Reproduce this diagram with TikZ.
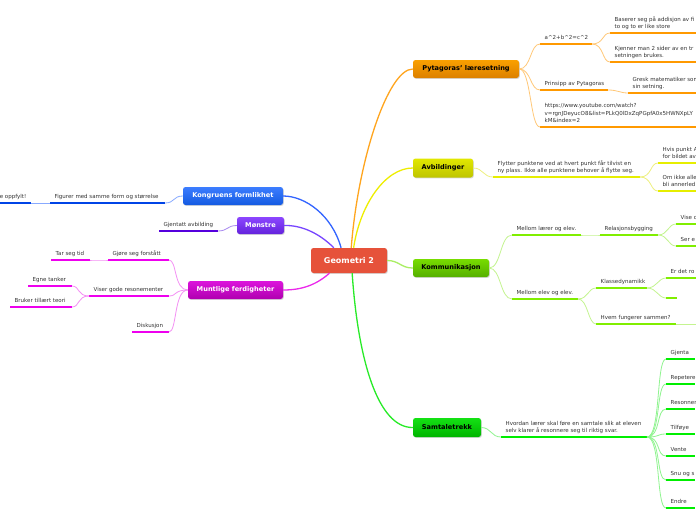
\documentclass[tikz,border=0pt]{standalone}
\usepackage{fontspec}
\setmainfont{DejaVu Sans}
\usetikzlibrary{shadows}
\newcommand\subfont{\fontsize{5.5}{7.6}\selectfont}
\newcommand\boxfont{\fontsize{6.6}{7.5}\selectfont\bfseries}
\newcommand\geofont{\fontsize{8}{9}\selectfont\bfseries}
\definecolor{txtgrey}{HTML}{333333}
\definecolor{ulo}{HTML}{FF9900}\definecolor{cono}{HTML}{FFC878}
\definecolor{uly}{HTML}{E6EE00}\definecolor{cony}{HTML}{EEF080}
\definecolor{ulk}{HTML}{80EE00}\definecolor{conk}{HTML}{C4F490}
\definecolor{uls}{HTML}{00EE00}\definecolor{cons}{HTML}{90F490}
\definecolor{ulb}{HTML}{0044E6}\definecolor{conb}{HTML}{88AAFF}
\definecolor{ulp}{HTML}{5500DD}\definecolor{conp}{HTML}{A888F0}
\definecolor{ulm}{HTML}{EE00EE}\definecolor{conm}{HTML}{F490F4}
\definecolor{geored}{HTML}{E6523A}
\definecolor{pytA}{HTML}{FAA000}\definecolor{pytB}{HTML}{DC8000}
\definecolor{avbA}{HTML}{E2E800}\definecolor{avbB}{HTML}{BEC400}
\definecolor{komA}{HTML}{78DC00}\definecolor{komB}{HTML}{55AF00}
\definecolor{samA}{HTML}{14E114}\definecolor{samB}{HTML}{00B400}
\definecolor{konA}{HTML}{3C7DFF}\definecolor{konB}{HTML}{145AE1}
\definecolor{monA}{HTML}{8C46FF}\definecolor{monB}{HTML}{6423DC}
\definecolor{munA}{HTML}{DC14DC}\definecolor{munB}{HTML}{AF00AF}
\definecolor{mainO}{HTML}{FFA51E}
\definecolor{mainY}{HTML}{EEEE00}
\definecolor{mainK}{HTML}{AAEE64}
\definecolor{mainS}{HTML}{28EB28}
\definecolor{mainB}{HTML}{3264FF}
\definecolor{mainP}{HTML}{7846FF}
\definecolor{mainM}{HTML}{EB28EB}
\tikzset{
  sub/.style={anchor=south west, inner xsep=4.5pt, inner ysep=2.4pt, text depth=1.5pt,
    align=left, font=\subfont, text=txtgrey},
  ul/.style={line width=2pt, draw=#1},
  con/.style={line width=0.8pt, draw=#1},
  main/.style={line width=1.3pt, draw=#1},
  topic/.style={rounded corners=2.5pt, font=\boxfont, inner sep=0pt,
    drop shadow={shadow xshift=0.8pt, shadow yshift=-0.9pt, opacity=0.3}},
}
\newcommand\Sub[6]{%
  \node[sub] (#1) at (#2,#3) {#6};
  \coordinate (#1-e) at (#4,#3);
  \draw[ul=#5] (#1.south west) -- (#1-e);}
\begin{document}
\begin{tikzpicture}[x=1pt,y=-1pt]
\path[use as bounding box] (0,0) rectangle (696,520);
\clip (0,0) rectangle (696,520);
\fill[white] (0,0) rectangle (696,520);

% main topics
\node[topic, minimum width=76pt, minimum height=25pt, fill=geored, text=white, font=\geofont] (geo) at (349,260.5) {Geometri 2};
\node[topic, minimum width=106pt, minimum height=18pt, top color=pytA, bottom color=pytB, text=black] (pyt) at (466,69) {Pytagoras' læresetning};
\node[topic, minimum width=60pt, minimum height=19pt, top color=avbA, bottom color=avbB, text=black] (avb) at (443,168) {Avbildinger};
\node[topic, minimum width=76pt, minimum height=18pt, top color=komA, bottom color=komB, text=black] (kom) at (451,268) {Kommunikasjon};
\node[topic, minimum width=68pt, minimum height=19pt, top color=samA, bottom color=samB, text=black] (sam) at (447,427.5) {Samtaletrekk};
\node[topic, minimum width=100pt, minimum height=18pt, top color=konA, bottom color=konB, text=white] (kon) at (233,196) {Kongruens formlikhet};
\node[topic, minimum width=47pt, minimum height=17pt, top color=monA, bottom color=monB, text=white] (mon) at (260.5,225.5) {Mønstre};
\node[topic, minimum width=95pt, minimum height=18pt, top color=munA, bottom color=munB, text=white] (mun) at (235.5,290) {Muntlige ferdigheter};

% centre connectors
\draw[main=mainO] (geo.80) .. controls (358,160) and (388,69) .. (pyt.west);
\draw[main=mainY] (geo.70) .. controls (360,205) and (385,168) .. (avb.west);
\draw[main=mainK] (geo.east) .. controls +(12,0) and +(-12,0) .. (kom.west);
\draw[main=mainS] (geo.-76) .. controls (358,360) and (378,428) .. (sam.west);
\draw[main=mainB] (geo.122) .. controls (332,215) and (305,196) .. (kon.east);
\draw[main=mainP] (geo.140) .. controls (318,232) and (300,225) .. (mon.east);
\draw[main=mainM] (geo.213) .. controls (315,286) and (300,290) .. (mun.east);

% Pytagoras
\Sub{pa}{540}{44}{592}{ulo}{a\textasciicircum 2+b\textasciicircum 2=c\textasciicircum 2}
\Sub{pb}{610}{33}{696}{ulo}{Baserer seg på addisjon av fi\\to og to er like store}
\Sub{pc}{610}{62}{696}{ulo}{Kjenner man 2 sider av en tr\\setningen brukes.}
\Sub{pd}{540}{90}{608}{ulo}{Prinsipp av Pytagoras}
\Sub{pe}{628}{93}{696}{ulo}{Gresk matematiker som\\sin setning.}
\Sub{pf}{540}{127}{696}{ulo}{https://www.youtube.com/watch?\\v=rgnJDeyucO8\&list=PLkQ0lDxZqPGpfA0x5HWNXpLY\\kM\&index=2}
\draw[con=cono] (pyt.east) .. controls +(12,0) and +(-10,0) .. (pa.south west);
\draw[con=cono] (pyt.east) .. controls +(12,0) and +(-10,0) .. (pd.south west);
\draw[con=cono] (pyt.east) .. controls +(12,0) and +(-10,0) .. (pf.south west);
\draw[con=cono] (pa-e) .. controls +(12,0) and +(-8,0) .. (pb.south west);
\draw[con=cono] (pa-e) .. controls +(12,0) and +(-8,0) .. (pc.south west);
\draw[con=cono] (pd-e) .. controls +(10,0) and +(-8,0) .. (pe.south west);

% Avbildinger
\Sub{aa}{493}{177}{640}{uly}{Flytter punktene ved at hvert punkt får tilvist en\\ny plass. Ikke alle punktene behover å flytte seg.}
\Sub{ab}{658}{163}{696}{uly}{Hvis punkt A\\for bildet av}
\Sub{ac}{658}{191}{696}{uly}{Om ikke alle\\bli annerled}
\draw[con=cony] (avb.east) .. controls +(10,0) and +(-10,0) .. (aa.south west);
\draw[con=cony] (aa-e) .. controls +(12,0) and +(-8,0) .. (ab.south west);
\draw[con=cony] (aa-e) .. controls +(12,0) and +(-8,0) .. (ac.south west);

% Kommunikasjon
\Sub{ka}{512}{235}{581}{ulk}{Mellom lærer og elev.}
\Sub{kb}{600}{235}{658}{ulk}{Relasjonsbygging}
\Sub{kc}{676}{224}{696}{ulk}{Vise o}
\Sub{kd}{676}{246}{696}{ulk}{Ser e}
\Sub{ke}{512}{299}{578}{ulk}{Mellom elev og elev.}
\Sub{kf}{596}{288}{647}{ulk}{Klassedynamikk}
\Sub{kg}{666}{278}{696}{ulk}{Er det ro}
\Sub{kh}{666}{298}{677}{ulk}{}
\Sub{ki}{596}{324}{676}{ulk}{Hvem fungerer sammen?}
\coordinate (kj) at (696,324);
\draw[con=conk] (kom.east) .. controls +(12,0) and +(-12,0) .. (ka.south west);
\draw[con=conk] (kom.east) .. controls +(12,0) and +(-12,0) .. (ke.south west);
\draw[con=conk] (ka-e) .. controls +(8,0) and +(-8,0) .. (kb.south west);
\draw[con=conk] (kb-e) .. controls +(10,0) and +(-8,0) .. (kc.south west);
\draw[con=conk] (kb-e) .. controls +(10,0) and +(-8,0) .. (kd.south west);
\draw[con=conk] (ke-e) .. controls +(10,0) and +(-8,0) .. (kf.south west);
\draw[con=conk] (ke-e) .. controls +(10,0) and +(-8,0) .. (ki.south west);
\draw[con=conk] (kf-e) .. controls +(10,0) and +(-8,0) .. (kg.south west);
\draw[con=conk] (kf-e) .. controls +(10,0) and +(-8,0) .. (kh.south west);
\draw[con=conk] (ki-e) -- (kj);

% Samtaletrekk
\Sub{sa}{501}{437}{647}{uls}{Hvordan lærer skal føre en samtale slik at eleven\\selv klarer å resonnere seg til riktig svar.}
\Sub{sb}{666}{359}{695}{uls}{Gjenta}
\Sub{sc}{666}{384}{695}{uls}{Repetere}
\Sub{sd}{666}{409}{695}{uls}{Resonner}
\Sub{se}{666}{434}{695}{uls}{Tilføye}
\Sub{sf}{666}{456}{695}{uls}{Vente}
\Sub{sg}{666}{480}{695}{uls}{Snu og s}
\Sub{sh}{666}{508}{695}{uls}{Endre}
\draw[con=cons] (sam.east) .. controls +(10,0) and +(-10,0) .. (sa.south west);
\foreach \n in {sb,sc,sd,se,sf,sg,sh}
  \draw[con=cons] (sa-e) .. controls +(14,0) and +(-10,0) .. (\n.south west);

% Kongruens formlikhet
\Sub{la}{50}{203}{165}{ulb}{Figurer med samme form og størrelse}
\node[sub, anchor=south east] (opp) at (31,203) {e oppfylt!};
\coordinate (opp-w) at (0,203);
\draw[ul=ulb] (opp-w) -- (opp.south east);
\draw[con=conb] (kon.west) .. controls +(-10,0) and +(10,0) .. (la-e);
\draw[con=conb] (la.south west) -- (opp.south east);

% Mønstre
\Sub{ma}{159}{231}{218}{ulp}{Gjentatt avbilding}
\draw[con=conp] (mon.west) .. controls +(-10,0) and +(10,0) .. (ma-e);

% Muntlige ferdigheter
\Sub{ua}{108}{260}{169}{ulm}{Gjøre seg forstått}
\Sub{ub}{51}{260}{90}{ulm}{Tar seg tid}
\Sub{uc}{89}{296}{169}{ulm}{Viser gode resonementer}
\Sub{ud}{28}{286}{72}{ulm}{Egne tanker}
\Sub{ue}{10}{307}{72}{ulm}{Bruker tillært teori}
\Sub{uf}{132}{332}{169}{ulm}{Diskusjon}
\draw[con=conm] (mun.west) .. controls +(-14,0) and +(8,0) .. (ua-e);
\draw[con=conm] (mun.west) .. controls +(-14,0) and +(8,0) .. (uc-e);
\draw[con=conm] (mun.west) .. controls +(-14,0) and +(8,0) .. (uf-e);
\draw[con=conm] (ua.south west) .. controls +(-8,0) and +(8,0) .. (ub-e);
\draw[con=conm] (uc.south west) .. controls +(-12,0) and +(8,0) .. (ud-e);
\draw[con=conm] (uc.south west) .. controls +(-12,0) and +(8,0) .. (ue-e);
\end{tikzpicture}
\end{document}
